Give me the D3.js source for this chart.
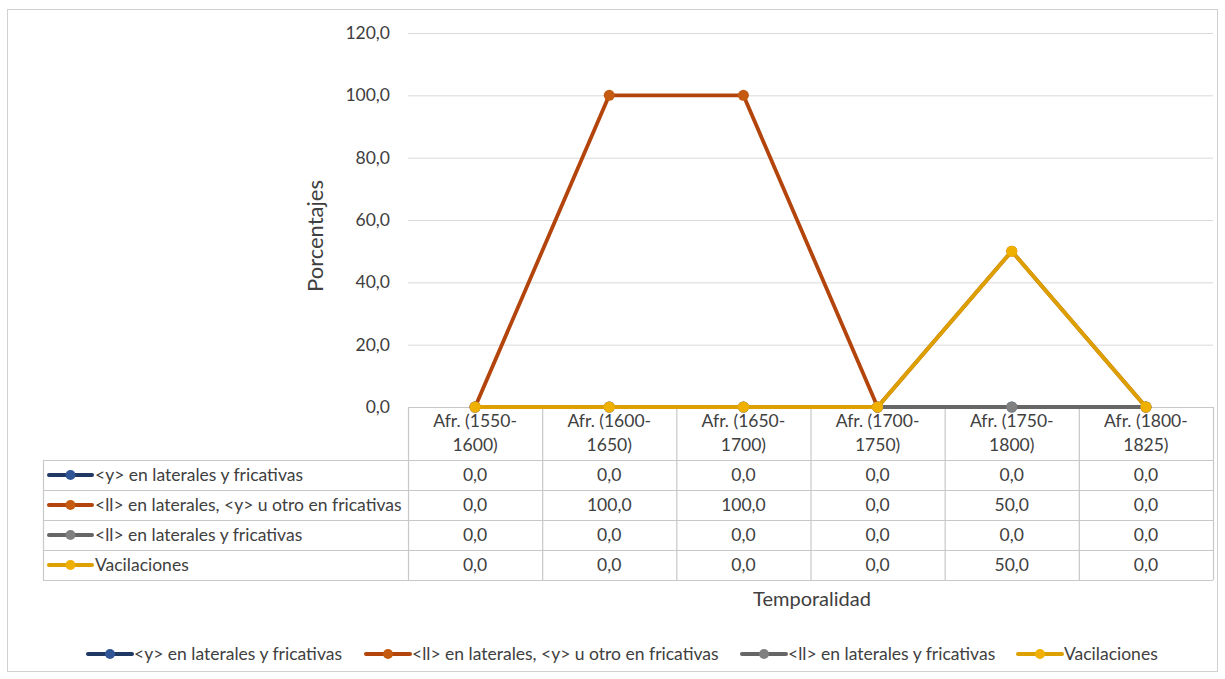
<!DOCTYPE html>
<html><head><meta charset="utf-8">
<script src="https://cdn.jsdelivr.net/npm/d3@7"></script>
<style>body{margin:0;background:#fff}svg{display:block}text{font-family:Lato,"Open Sans",sans-serif;fill:#404040}</style>
</head><body><svg id="c" width="1225" height="679"></svg>
<script>
const categories = ["Afr. (1550-1600)","Afr. (1600-1650)","Afr. (1650-1700)","Afr. (1700-1750)","Afr. (1750-1800)","Afr. (1800-1825)"];
const categoryLines = [["Afr. (1550-","1600)"],["Afr. (1600-","1650)"],["Afr. (1650-","1700)"],["Afr. (1700-","1750)"],["Afr. (1750-","1800)"],["Afr. (1800-","1825)"]];
const seriesNames = ["<y> en laterales y fricativas","<ll> en laterales, <y> u otro en fricativas","<ll> en laterales y fricativas","Vacilaciones"];
const serieY = [0,0,0,0,0,0];
const serieLlY = [0,100,100,0,50,0];
const serieLl = [0,0,0,0,0,0];
const serieVac = [0,0,0,0,50,0];
const yTicks = [0,20,40,60,80,100,120];
const lineColors = ["#203864","#B3440C","#666666","#DCA000"];
const markerColors = ["#2F5597","#C55A11","#808080","#F0B000"];

const FS = 17.5;
const series = [serieY, serieLlY, serieLl, serieVac];
const loc = d3.formatLocale({decimal:",",thousands:".",grouping:[3],currency:["","€"]});
const fmt = loc.format(".1f");
const svg = d3.select("#c");

svg.append("rect").attr("x",7.5).attr("y",9.5).attr("width",1210).attr("height",662)
  .attr("fill","#fff").attr("stroke","#d0d0d0");

const pLeft=408, pRight=1213, pTop=33, pBase=407;
const x = d3.scaleBand().domain(categories).range([pLeft,pRight]);
const y = d3.scaleLinear().domain([0,120]).range([pBase,pTop]);
const cx = c => x(c)+x.bandwidth()/2;

// gridlines
svg.append("g").selectAll("line").data(yTicks.filter(t=>t>0)).join("line")
  .attr("x1",pLeft).attr("x2",pRight).attr("y1",d=>y(d)+0.5).attr("y2",d=>y(d)+0.5)
  .attr("stroke","#d9d9d9").attr("stroke-width",1);

// y axis labels
const yAxis = d3.axisLeft(y).tickValues(yTicks).tickFormat(fmt).tickSize(0).tickPadding(18);
const ga = svg.append("g").attr("transform",`translate(${pLeft},0)`).call(yAxis);
ga.select(".domain").remove();
ga.selectAll("text").attr("font-size",FS).attr("fill","#404040").style("font-family","Lato,sans-serif");

// axis title
svg.append("text").attr("transform","translate(323,236) rotate(-90)").attr("text-anchor","middle")
  .attr("font-size",22).text("Porcentajes");

// table
const tableLeft = 43;
const rowTop = [460,490,520,550];
const rowH = 30;
const tg = svg.append("g").attr("stroke","#c8c8c8").attr("stroke-width",1.2);
tg.append("line").attr("x1",pLeft).attr("x2",pRight).attr("y1",pBase+0.5).attr("y2",pBase+0.5);
[460,490,520,550,580].forEach(v=>{
  tg.append("line").attr("x1",tableLeft).attr("x2",pRight).attr("y1",v+0.5).attr("y2",v+0.5);
});
tg.append("line").attr("x1",tableLeft+0.5).attr("x2",tableLeft+0.5).attr("y1",460).attr("y2",580);
categories.forEach(c=>{
  tg.append("line").attr("x1",x(c)+0.5).attr("x2",x(c)+0.5).attr("y1",pBase).attr("y2",580);
});
tg.append("line").attr("x1",pRight+0.5).attr("x2",pRight+0.5).attr("y1",pBase).attr("y2",580);

// header labels
categories.forEach((c,i)=>{
  const t = svg.append("text").attr("x",cx(c)).attr("text-anchor","middle").attr("font-size",FS);
  categoryLines[i].forEach((ln,j)=>t.append("tspan").attr("x",cx(c)).attr("y",427+j*24).text(ln));
});

function key(g, x0, yy, i, len){
  g.append("line").attr("x1",x0).attr("x2",x0+len).attr("y1",yy).attr("y2",yy)
    .attr("stroke",lineColors[i]).attr("stroke-width",4).attr("stroke-linecap","round");
  g.append("circle").attr("cx",x0+len/2).attr("cy",yy).attr("r",5).attr("fill",markerColors[i]);
}

// table rows
seriesNames.forEach((n,i)=>{
  const yy = rowTop[i]+rowH/2;
  key(svg, 49, yy, i, 43);
  svg.append("text").attr("x",95).attr("y",yy+6).attr("font-size",FS).text(n);
  series[i].forEach((v,j)=>{
    svg.append("text").attr("x",cx(categories[j])).attr("y",yy+6).attr("text-anchor","middle")
      .attr("font-size",FS).text(fmt(v));
  });
});

// lines
const line = d3.line().x((d,j)=>cx(categories[j])).y(d=>y(d));
series.forEach((s,i)=>{
  svg.append("path").datum(s).attr("d",line).attr("fill","none")
    .attr("stroke",lineColors[i]).attr("stroke-width",3.8).attr("stroke-linejoin","round");
  svg.append("g").selectAll("circle").data(s).join("circle")
    .attr("cx",(d,j)=>cx(categories[j])).attr("cy",d=>y(d)).attr("r",5.5).attr("fill",markerColors[i]);
});

// x axis title
svg.append("text").attr("x",812).attr("y",606).attr("text-anchor","middle").attr("font-size",20).text("Temporalidad");

// bottom legend
const legX = [88,366,742,1018];
seriesNames.forEach((n,i)=>{
  key(svg, legX[i], 654, i, 44);
  svg.append("text").attr("x",legX[i]+46).attr("y",660).attr("font-size",FS).text(n);
});
</script></body></html>
